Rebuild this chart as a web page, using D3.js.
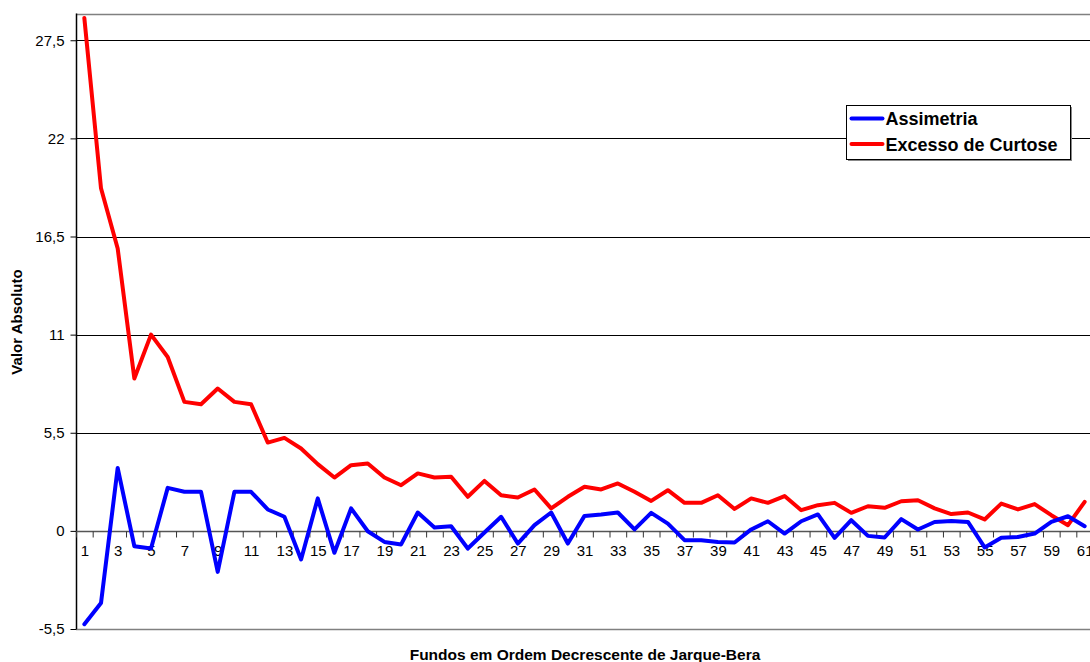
<!DOCTYPE html>
<html>
<head>
<meta charset="utf-8">
<script src="https://cdn.jsdelivr.net/npm/d3@7"></script>
<style>
  html, body { margin: 0; padding: 0; background: #fff; }
  svg { display: block; font-family: "Liberation Sans", Arial, sans-serif; }
</style>
</head>
<body>
<svg id="chart" width="1090" height="662"></svg>
<script>
// Fund ranks (ordered by decreasing Jarque-Bera statistic)
const fundos = d3.range(1, 62);

// Skewness per fund
const assimetria = [
  -5.23, -4.04, 3.53, -0.86, -0.99, 2.41, 2.19, 2.19, -2.30, 2.19,
  2.19, 1.20, 0.79, -1.60, 1.82, -1.23, 1.26, -0.02, -0.62, -0.76,
  1.03, 0.19, 0.26, -0.99, -0.09, 0.79, -0.71, 0.32, 1.03, -0.71,
  0.84, 0.92, 1.03, 0.08, 1.01, 0.41, -0.52, -0.52, -0.62, -0.65,
  0.08, 0.54, -0.15, 0.54, 0.92, -0.39, 0.60, -0.28, -0.37, 0.66,
  0.08, 0.50, 0.56, 0.50, -0.93, -0.39, -0.34, -0.15, 0.50, 0.82,
  0.26
];

// Excess kurtosis per fund
const excessoCurtose = [
  28.75, 19.2, 15.83, 8.54, 11.0, 9.75, 7.23, 7.10, 7.98, 7.23,
  7.10, 4.95, 5.21, 4.62, 3.74, 2.99, 3.68, 3.78, 2.99, 2.56,
  3.22, 2.99, 3.03, 1.91, 2.80, 2.00, 1.87, 2.32, 1.26, 1.91,
  2.47, 2.32, 2.66, 2.19, 1.68, 2.28, 1.57, 1.57, 2.00, 1.23,
  1.82, 1.57, 1.95, 1.16, 1.44, 1.57, 1.01, 1.38, 1.29, 1.66,
  1.72, 1.26, 0.94, 1.03, 0.64, 1.53, 1.20, 1.50, 0.88, 0.32,
  1.63
];

const yTicks = [-5.5, 0, 5.5, 11, 16.5, 22, 27.5];
const xLabelTicks = fundos.filter(d => d % 2 === 1);

const seriesList = [
  { name: "Assimetria", values: assimetria, color: "#0000ff" },
  { name: "Excesso de Curtose", values: excessoCurtose, color: "#ff0000" }
];

const svg = d3.select("#chart");

const plot = { left: 76, top: 13.5, right: 1093, bottom: 629 };

const x = d3.scaleLinear()
  .domain([0.5, fundos.length + 0.5])
  .range([plot.left, plot.right]);

const y = d3.scaleLinear()
  .domain([-5.5, 29])
  .range([plot.bottom, plot.top]);

// Portuguese number format: decimal comma, plain hyphen for negatives
const fmt = d => d3.format(".1~f")(d).replace(".", ",").replace("\u2212", "-");

// Plot frame: top and bottom border
svg.append("line")
  .attr("x1", plot.left).attr("x2", 1090)
  .attr("y1", Math.round(plot.top) + 0.5).attr("y2", Math.round(plot.top) + 0.5)
  .attr("stroke", "#808080").attr("stroke-width", 1.5);
svg.append("line")
  .attr("x1", plot.left).attr("x2", 1090)
  .attr("y1", plot.bottom + 0.5).attr("y2", plot.bottom + 0.5)
  .attr("stroke", "#808080").attr("stroke-width", 1.5);

// Horizontal gridlines
svg.append("g")
  .selectAll("line")
  .data(yTicks.filter(t => t > -5.5 && t !== 0))
  .join("line")
  .attr("x1", plot.left).attr("x2", 1090)
  .attr("y1", d => Math.round(y(d)) + 0.5)
  .attr("y2", d => Math.round(y(d)) + 0.5)
  .attr("stroke", "#000").attr("stroke-width", 1);

// Value axis
const yAxis = svg.append("g")
  .attr("transform", `translate(${plot.left + 0.5},0)`)
  .call(d3.axisLeft(y).tickValues(yTicks).tickSize(6).tickPadding(6).tickFormat(fmt));
yAxis.select(".domain").attr("stroke", "#000").attr("stroke-width", 1.5)
  .attr("d", `M0,${plot.top}V${plot.bottom}`);
yAxis.selectAll(".tick line").attr("stroke", "#000");
yAxis.selectAll(".tick text")
  .attr("font-size", 15).attr("fill", "#000")
  .attr("font-family", "'Liberation Sans', Arial, sans-serif");

// Category axis crossing at zero: tick marks on band boundaries
const y0 = Math.round(y(0)) + 0.5;
const xTickAxis = svg.append("g")
  .attr("transform", `translate(0,${y0})`)
  .call(d3.axisBottom(x)
    .tickValues(d3.range(0.5, fundos.length + 1, 1))
    .tickSize(6).tickFormat(""));
xTickAxis.select(".domain").attr("stroke", "#555").attr("stroke-width", 1.5)
  .attr("d", `M${plot.left},0H1090`);
xTickAxis.selectAll(".tick line").attr("stroke", "#333");

// Category labels (odd ranks)
const xLabelAxis = svg.append("g")
  .attr("transform", `translate(0,${y0})`)
  .call(d3.axisBottom(x).tickValues(xLabelTicks).tickSize(0).tickPadding(14).tickFormat(d3.format("d")));
xLabelAxis.select(".domain").remove();
xLabelAxis.selectAll(".tick text")
  .attr("font-size", 15).attr("fill", "#000")
  .attr("font-family", "'Liberation Sans', Arial, sans-serif");

// Series lines
const line = d3.line()
  .x((d, i) => x(fundos[i]))
  .y(d => y(d));

svg.append("g")
  .selectAll("path")
  .data(seriesList.slice().reverse())
  .join("path")
  .attr("d", s => line(s.values))
  .attr("fill", "none")
  .attr("stroke", s => s.color)
  .attr("stroke-width", 4)
  .attr("stroke-linejoin", "round")
  .attr("stroke-linecap", "round");

// Axis titles
svg.append("text")
  .attr("x", 585).attr("y", 660)
  .attr("text-anchor", "middle")
  .attr("font-size", 15.5).attr("font-weight", "bold")
  .text("Fundos em Ordem Decrescente de Jarque-Bera");

svg.append("text")
  .attr("transform", "translate(22,322) rotate(-90)")
  .attr("text-anchor", "middle")
  .attr("font-size", 15).attr("font-weight", "bold")
  .text("Valor Absoluto");

// Legend
const legend = svg.append("g").attr("transform", "translate(846.5,105.5)");
legend.append("rect")
  .attr("x", 1.5).attr("y", 1.5).attr("width", 224).attr("height", 54)
  .attr("fill", "#888");
legend.append("rect")
  .attr("width", 224).attr("height", 54)
  .attr("fill", "#fff").attr("stroke", "#000").attr("stroke-width", 1);
const items = legend.selectAll("g.item")
  .data(seriesList)
  .join("g")
  .attr("class", "item")
  .attr("transform", (d, i) => `translate(0,${13 + i * 25.5})`);
items.append("line")
  .attr("x1", 5).attr("x2", 36)
  .attr("stroke", d => d.color).attr("stroke-width", 4)
  .attr("stroke-linecap", "round");
items.append("text")
  .attr("x", 39).attr("y", 6.5)
  .attr("font-size", 18).attr("font-weight", "bold")
  .text(d => d.name);
</script>
</body>
</html>
